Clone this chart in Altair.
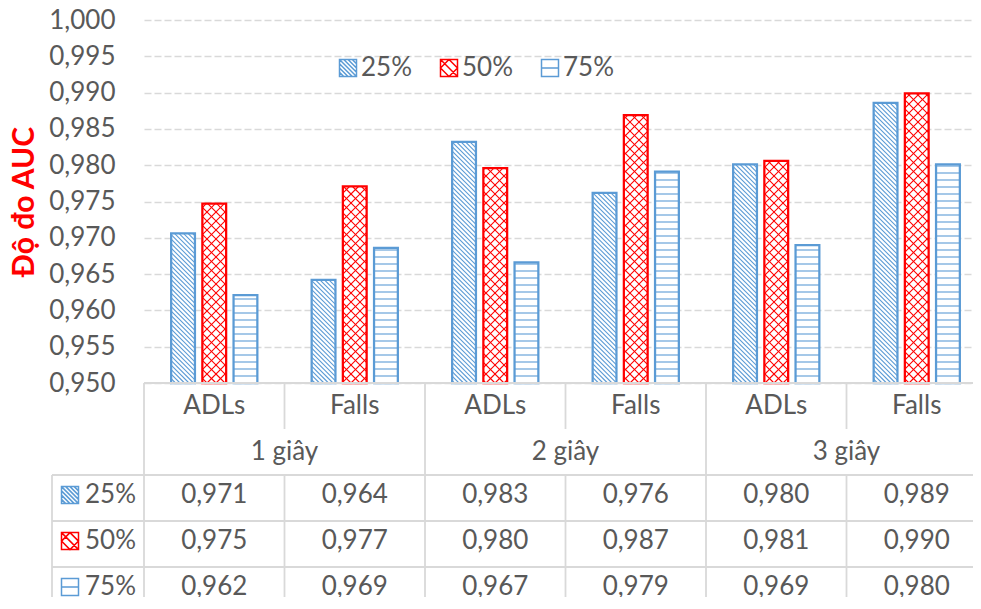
import math
import altair as alt
import pandas as pd

# ---------------- data ----------------
durations = ["1 giây", "2 giây", "3 giây"]
classes = ["ADLs", "Falls"]
series_names = ["25%", "50%", "75%"]
# order: 1 giây ADLs, 1 giây Falls, 2 giây ADLs, 2 giây Falls, 3 giây ADLs, 3 giây Falls
auc_25 = [0.9706, 0.9642, 0.9832, 0.9762, 0.9801, 0.9886]
auc_50 = [0.9747, 0.9771, 0.9796, 0.9869, 0.9806, 0.9899]
auc_75 = [0.9621, 0.9686, 0.9666, 0.9791, 0.9690, 0.9801]
y_ticks = [0.950, 0.955, 0.960, 0.965, 0.970, 0.975, 0.980, 0.985, 0.990, 0.995, 1.000]
y_title = "Độ đo AUC"

# ---------------- style ----------------
series_colors = ["#5B9BD5", "#FF0000", "#5B9BD5"]
FONT = "Lato"
GRAY = "#595959"
LINE = "#D9D9D9"
FS = 26

FULL_W = 843          # full width of the six category cells (partly beyond the page edge)
W, H = 829, 363       # visible plot area
Y0, Y1 = y_ticks[0], y_ticks[-1]
N_CELLS = len(durations) * len(classes)
CELL_PX = FULL_W / N_CELLS
PX_PER_Y = H / (Y1 - Y0)
BAR_STEP_PX = 31.2
BAR_W_PX = 23.8
ROW_PX = 46
N_ROWS = 2 + len(series_names)
LEFT_COL = -92 / CELL_PX


def row_y(r):
    """table row coordinate -> value units on the shared y scale (below the axis range)"""
    return Y0 - r * ROW_PX / PX_PER_Y


values = [auc_25, auc_50, auc_75]

# ---------------- bars ----------------
bars = []
for si, s in enumerate(series_names):
    for ci in range(N_CELLS):
        xc = ci + 0.5 + (si - 1) * BAR_STEP_PX / CELL_PX
        half = BAR_W_PX / 2 / CELL_PX
        bars.append(dict(series=s, si=si, cell=ci,
                         duration=durations[ci // len(classes)],
                         cls=classes[ci % len(classes)],
                         auc=values[si][ci], base=Y0,
                         x0=xc - half, x1=xc + half))
bars_df = pd.DataFrame(bars)

# ---------------- hatch patterns (derived from bar geometry) ----------------
PATTERNS = {"25%": [("down", 4.5)],
            "50%": [("down", 9.0), ("up", 9.0)],
            "75%": [("flat", 7.0)]}


def hatch_segments(x0, x1, h, kind, p):
    segs = []
    if kind == "flat":
        k = 1
        while k * p < h:
            segs.append((x0, k * p, x1, k * p))
            k += 1
    elif kind == "down":  # y = c - x
        k = math.ceil(x0 / p)
        while k * p < x1 + h:
            c = k * p
            xa, xb = max(x0, c - h), min(x1, c)
            if xb > xa:
                segs.append((xa, c - xa, xb, c - xb))
            k += 1
    else:  # "up": y = x + c
        k = math.ceil(-x1 / p)
        while k * p < h - x0:
            c = k * p
            xa, xb = max(x0, -c), min(x1, h - c)
            if xb > xa:
                segs.append((xa, xa + c, xb, xb + c))
            k += 1
    return segs


hatch = []
for b in bars:
    x0p, x1p = b["x0"] * CELL_PX, b["x1"] * CELL_PX
    hp = (b["auc"] - Y0) * PX_PER_Y
    for kind, p in PATTERNS[b["series"]]:
        for xa, ya, xb, yb in hatch_segments(x0p, x1p, hp, kind, p):
            hatch.append(dict(series=b["series"],
                              xa=xa / CELL_PX, xb=xb / CELL_PX,
                              ya=Y0 + ya / PX_PER_Y, yb=Y0 + yb / PX_PER_Y))
hatch_df = pd.DataFrame(hatch)

# ---------------- table pieces ----------------
cls_df = pd.DataFrame([dict(label=classes[ci % len(classes)], x=ci + 0.5, y=row_y(0.5))
                       for ci in range(N_CELLS)])
dur_df = pd.DataFrame([dict(label=d, x=gi * len(classes) + len(classes) / 2, y=row_y(1.5))
                       for gi, d in enumerate(durations)])
val_df = bars_df.assign(x=bars_df["cell"] + 0.5, y=[row_y(si + 2.5) for si in bars_df["si"]])
rowlab_df = pd.DataFrame([dict(series=s, y=row_y(si + 2.5),
                               xs=(70 - 144) / CELL_PX, xt=(85 - 144) / CELL_PX)
                          for si, s in enumerate(series_names)])

rules = [dict(x=0, x2=N_CELLS, y=0, y2=0)]
for r in range(2, N_ROWS + 1):
    rules.append(dict(x=LEFT_COL, x2=N_CELLS, y=r, y2=r))
for gi in range(len(durations) + 1):
    xg = gi * len(classes)
    rules.append(dict(x=xg, x2=xg, y=0, y2=N_ROWS))
for ci in range(N_CELLS):
    if ci % len(classes) != 0:
        rules.append(dict(x=ci, x2=ci, y=0, y2=1))
        rules.append(dict(x=ci, x2=ci, y=2, y2=N_ROWS))
rules.append(dict(x=LEFT_COL, x2=LEFT_COL, y=2, y2=N_ROWS))
rules_df = pd.DataFrame(rules)
rules_df["y"] = rules_df["y"].map(row_y)
rules_df["y2"] = rules_df["y2"].map(row_y)

# ---------------- scales ----------------
x_scale = alt.Scale(domain=[0, N_CELLS], range=[0, FULL_W], nice=False, zero=False)
y_scale = alt.Scale(domain=[Y0, Y1], nice=False, zero=False)
stroke_scale = alt.Scale(domain=series_names, range=series_colors)
shape_paths = [
    "M-1,-1H1V1H-1Z M0,-1L1,0 M-0.5,-1L1,0.5 M-1,-1L1,1 M-1,-0.5L0.5,1 M-1,0L0,1 M0.5,-1L1,-0.5 M-1,0.5L-0.5,1",
    "M-1,-1H1V1H-1Z M0,-1L1,0L0,1L-1,0Z M-1,-1L1,1",
    "M-1,-1H1V1H-1Z M-1,0H1",
]
shape_scale = alt.Scale(domain=series_names, range=shape_paths)

legend = alt.Legend(title=None, orient="none", legendX=191, legendY=35,
                    direction="horizontal", labelFont=FONT, labelFontSize=FS,
                    labelColor=GRAY, symbolType="square", symbolSize=289,
                    symbolStrokeWidth=1.5, columnPadding=24, labelOffset=0,
                    padding=0)

y_axis = alt.Axis(values=y_ticks,
                  labelExpr="replace(format(datum.value, '.3f'), '.', ',')",
                  grid=True, gridDash=[7, 3], gridColor=LINE, gridWidth=1.3,
                  domain=False, ticks=False, labelFont=FONT, labelFontSize=FS,
                  labelColor=GRAY, labelPadding=29, labelOverlap=False,
                  titleFont=FONT, titleFontSize=30, titleFontWeight="bold",
                  titleColor="#FF0000", titlePadding=9)


def X(field):
    return alt.X(f"{field}:Q", scale=x_scale, axis=None)


def Y(field):
    # every layer carries the same explicit axis so the shared axis merges cleanly
    return alt.Y(f"{field}:Q", scale=y_scale, axis=y_axis, title=y_title)


# ---------------- layers ----------------
bar_layer = alt.Chart(bars_df).mark_rect(fill="white", strokeWidth=2.25).encode(
    x=X("x0"), x2="x1:Q",
    y=Y("auc"), y2="base:Q",
    stroke=alt.Stroke("series:N", scale=stroke_scale, legend=legend),
)
hatch_layer = alt.Chart(hatch_df).mark_rule(strokeWidth=1.1).encode(
    x=X("xa"), x2="xb:Q", y=Y("ya"), y2="yb:Q",
    stroke=alt.Stroke("series:N", scale=stroke_scale, legend=None),
)
line_layer = alt.Chart(rules_df).mark_rule(color=LINE, strokeWidth=1.8).encode(
    x=X("x"), x2="x2:Q", y=Y("y"), y2="y2:Q",
)
text_kw = dict(font=FONT, fontSize=FS, color=GRAY, baseline="middle")
cls_layer = alt.Chart(cls_df).mark_text(align="center", **text_kw).encode(
    x=X("x"), y=Y("y"), text="label:N")
dur_layer = alt.Chart(dur_df).mark_text(align="center", **text_kw).encode(
    x=X("x"), y=Y("y"), text="label:N")
val_layer = alt.Chart(val_df).transform_calculate(
    txt="replace(format(datum.auc, '.3f'), '.', ',')"
).mark_text(align="center", dy=-3, **text_kw).encode(
    x=X("x"), y=Y("y"), text="txt:N")
rowlab_layer = alt.Chart(rowlab_df).mark_text(align="left", dy=-3, **text_kw).encode(
    x=X("xt"), y=Y("y"), text="series:N")
swatch_layer = alt.Chart(rowlab_df).transform_calculate(
    ys="datum.y + 0.0004"
).mark_point(filled=False, size=289, strokeWidth=1.5, opacity=1).encode(
    x=X("xs"), y=Y("ys"),
    stroke=alt.Stroke("series:N", scale=stroke_scale, legend=None),
    shape=alt.Shape("series:N", scale=shape_scale, legend=None),
)

chart = alt.layer(
    bar_layer, hatch_layer, line_layer, cls_layer, dur_layer,
    val_layer, rowlab_layer, swatch_layer,
).properties(
    width=W, height=H,
    autosize=alt.AutoSizeParams(type="none"),
    padding={"left": 136, "top": 12, "right": 0, "bottom": 214},
).configure_view(stroke=None)

chart.save("out.html", embed_options={"renderer": "svg", "actions": False})
